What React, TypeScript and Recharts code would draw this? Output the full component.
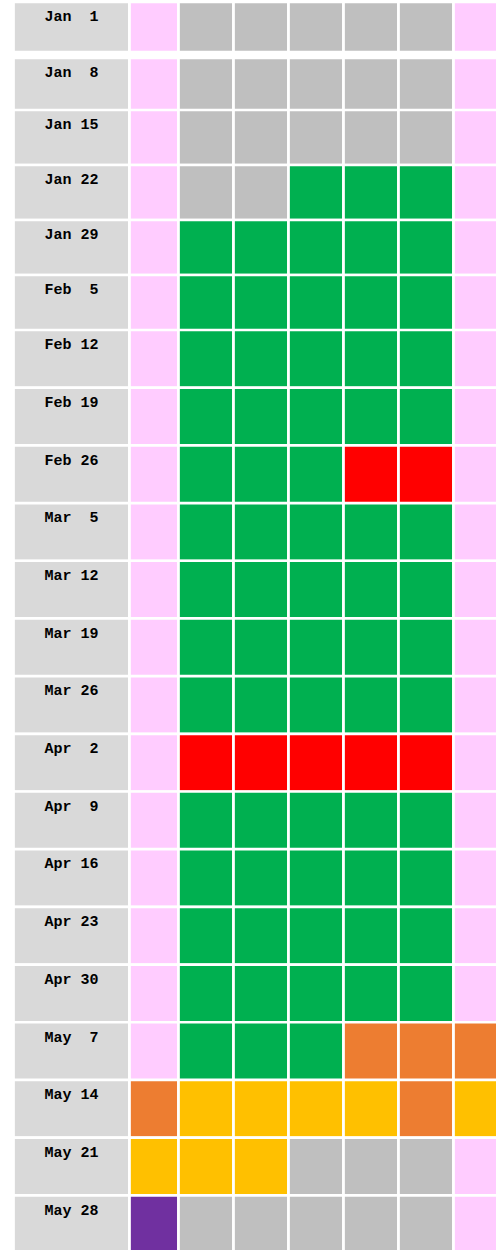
import React from 'react'
import { Bar, BarChart, Cell, LabelList, XAxis, YAxis } from 'recharts'

// week start labels (two spaces keep the day right aligned)
const weeks = [
  'Jan  1', 'Jan  8', 'Jan 15', 'Jan 22', 'Jan 29',
  'Feb  5', 'Feb 12', 'Feb 19', 'Feb 26',
  'Mar  5', 'Mar 12', 'Mar 19', 'Mar 26',
  'Apr  2', 'Apr  9', 'Apr 16', 'Apr 23', 'Apr 30',
  'May  7', 'May 14', 'May 21', 'May 28',
]

// P = pink (weekend), G = grey, K = green, R = red, O = orange, Y = yellow, V = purple
const cellStatus = [
  ['P', 'G', 'G', 'G', 'G', 'G', 'P'],
  ['P', 'G', 'G', 'G', 'G', 'G', 'P'],
  ['P', 'G', 'G', 'G', 'G', 'G', 'P'],
  ['P', 'G', 'G', 'K', 'K', 'K', 'P'],
  ['P', 'K', 'K', 'K', 'K', 'K', 'P'],
  ['P', 'K', 'K', 'K', 'K', 'K', 'P'],
  ['P', 'K', 'K', 'K', 'K', 'K', 'P'],
  ['P', 'K', 'K', 'K', 'K', 'K', 'P'],
  ['P', 'K', 'K', 'K', 'R', 'R', 'P'],
  ['P', 'K', 'K', 'K', 'K', 'K', 'P'],
  ['P', 'K', 'K', 'K', 'K', 'K', 'P'],
  ['P', 'K', 'K', 'K', 'K', 'K', 'P'],
  ['P', 'K', 'K', 'K', 'K', 'K', 'P'],
  ['P', 'R', 'R', 'R', 'R', 'R', 'P'],
  ['P', 'K', 'K', 'K', 'K', 'K', 'P'],
  ['P', 'K', 'K', 'K', 'K', 'K', 'P'],
  ['P', 'K', 'K', 'K', 'K', 'K', 'P'],
  ['P', 'K', 'K', 'K', 'K', 'K', 'P'],
  ['P', 'K', 'K', 'K', 'O', 'O', 'O'],
  ['O', 'Y', 'Y', 'Y', 'Y', 'O', 'Y'],
  ['Y', 'Y', 'Y', 'G', 'G', 'G', 'P'],
  ['V', 'G', 'G', 'G', 'G', 'G', 'P'],
]

const palette: Record<string, string> = {
  P: '#FFCCFF',
  G: '#BFBFBF',
  K: '#00B050',
  R: '#FF0000',
  O: '#ED7D31',
  Y: '#FFC000',
  V: '#7030A0',
}

// column widths of the sheet, in px
const LEAD = 13.5
const LABEL_W = 116
const FIRST_W = 49
const DAY_W = 55
const dayKeys = ['d0', 'd1', 'd2', 'd3', 'd4', 'd5', 'd6']
const TOTAL = LEAD + LABEL_W + FIRST_W + DAY_W * 6
const GAP = 2.7

const table = weeks.map((week, i) => {
  const row: any = { week, lead: LEAD, label: LABEL_W, status: cellStatus[i] }
  dayKeys.forEach((k, j) => {
    row[k] = j === 0 ? FIRST_W : DAY_W
  })
  return row
})

const renderWeek = (props: any) => {
  const { x, y, width, value } = props
  return (
    <text
      x={x + width / 2}
      y={y + 19.3}
      textAnchor="middle"
      fontFamily="'Courier New', 'Liberation Mono', monospace"
      fontWeight="bold"
      fontSize={15}
      fill="#000"
      style={{ whiteSpace: 'pre' }}
    >
      {value}
    </text>
  )
}

const Band = ({ from, to, height, top = 0 }: any) => {
  const rows = table.slice(from, to)
  return (
    <BarChart
      width={Math.ceil(TOTAL)}
      height={height}
      data={rows}
      layout="vertical"
      barCategoryGap={0}
      margin={{ top, right: 0, bottom: 0, left: 0 }}
    >
      <XAxis type="number" hide domain={[0, Math.ceil(TOTAL)]} />
      <YAxis type="category" dataKey="week" hide />
      <Bar dataKey="lead" stackId="r" fill="none" isAnimationActive={false} />
      <Bar
        dataKey="label"
        stackId="r"
        fill="#D9D9D9"
        stroke="#fff"
        strokeWidth={GAP}
        isAnimationActive={false}
      >
        <LabelList dataKey="week" content={renderWeek} />
      </Bar>
      {dayKeys.map((k, j) => (
        <Bar
          key={k}
          dataKey={k}
          stackId="r"
          stroke="#fff"
          strokeWidth={GAP}
          isAnimationActive={false}
        >
          {rows.map((r: any, i: number) => (
            <Cell key={i} fill={palette[r.status[j]]} />
          ))}
        </Bar>
      ))}
    </BarChart>
  )
}

const App = () => (
  <div
    style={{
      position: 'absolute',
      top: 0,
      left: 0,
      width: 496,
      height: 1250,
      overflow: 'hidden',
      background: '#fff',
    }}
  >
    {/* frozen first row, then the sheet's three row heights */}
    <Band from={0} to={1} height={52} top={2} />
    <div style={{ height: 6 }} />
    <Band from={1} to={2} height={52} />
    <Band from={2} to={6} height={220} />
    <Band from={6} to={22} height={923} />
  </div>
)

export default App
